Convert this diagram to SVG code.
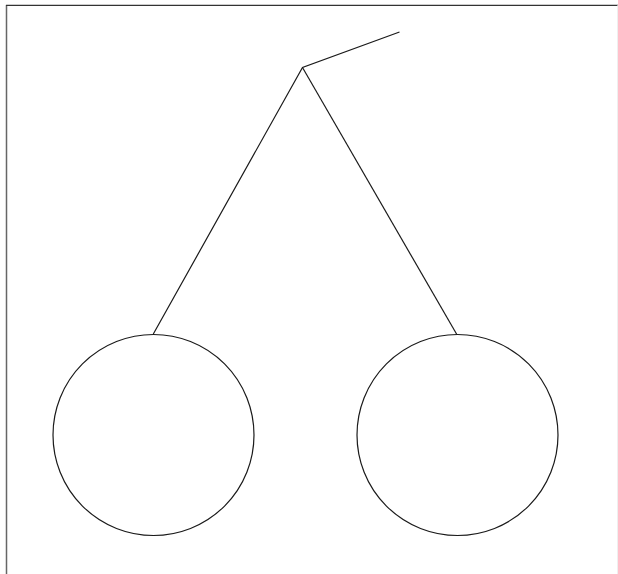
<svg xmlns="http://www.w3.org/2000/svg" width="618" height="574" viewBox="0 0 618 574">
<style>
.s{fill:none;stroke:#1a1a1a;stroke-width:1.2}
</style>
<rect x="0" y="0" width="618" height="574" fill="#fff"/>
<line x1="6.5" y1="5" x2="6.5" y2="574" stroke="#666" stroke-width="1.5"/>
<line x1="6" y1="5.3" x2="618" y2="5.3" stroke="#333" stroke-width="1.2"/>
<line x1="617.7" y1="5" x2="617.7" y2="574" stroke="#e6e6e6" stroke-width="0.8"/>
<g id="connectors">
<polyline class="s" points="399.5,32 302.5,67.5 153.3,334"/>
<line class="s" x1="302.5" y1="67.5" x2="456.7" y2="334.3"/>
</g>
<g id="left-circle"><circle class="s" cx="153.5" cy="435" r="100.5"/></g>
<g id="right-circle"><circle class="s" cx="457.5" cy="435" r="100.5"/></g>
</svg>
